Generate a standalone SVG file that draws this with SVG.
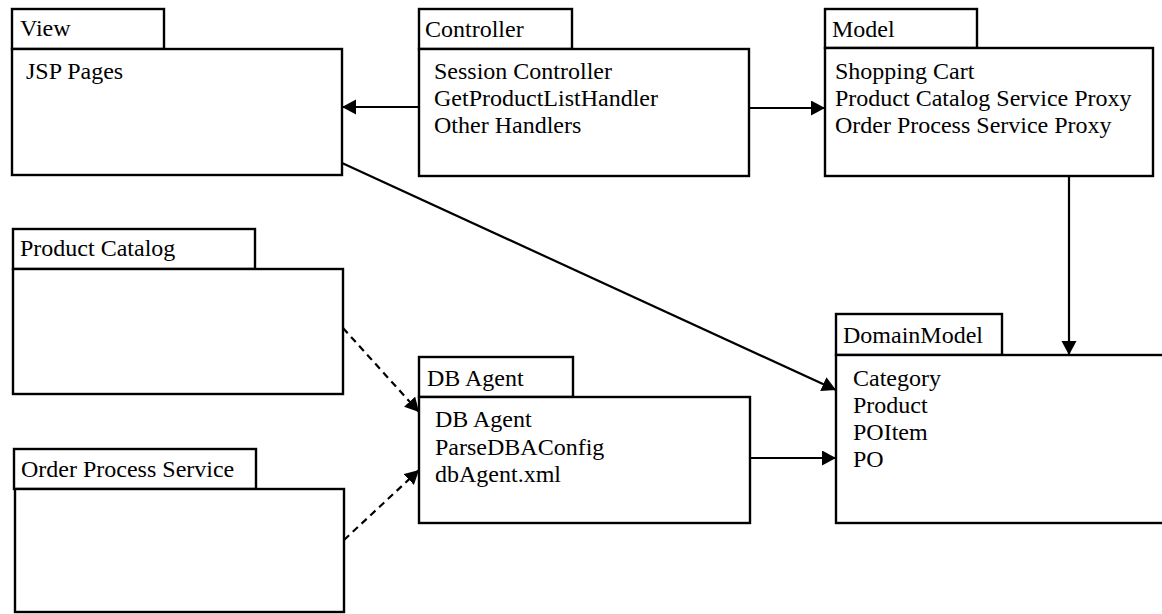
<svg xmlns="http://www.w3.org/2000/svg" width="1162" height="614" viewBox="0 0 1162 614">
  <style>
    .box { fill: #fff; stroke: #000; stroke-width: 2.4; }
    .lbl { font-family: 'Liberation Serif', 'Times New Roman', serif; font-size: 24px; fill: #000; }
    .edge { fill: none; stroke: #000; stroke-width: 2.2; }
    .dash { stroke-dasharray: 7 5; }
  </style>
  <defs>
    <marker id="head" markerUnits="userSpaceOnUse" markerWidth="16" markerHeight="16" refX="14" refY="7.5" orient="auto">
      <path d="M0,0 L14,7.5 L0,15 Z" fill="#000"/>
    </marker>
  </defs>
  <rect width="1162" height="614" fill="#fff"/>

  <!-- View package -->
  <g id="view">
    <rect class="box" x="12" y="9" width="152" height="40"/>
    <rect class="box" x="12" y="49" width="330" height="126"/>
    <text class="lbl" x="20" y="36">View</text>
    <text class="lbl" x="26" y="79">JSP Pages</text>
  </g>

  <!-- Controller package -->
  <g id="controller">
    <rect class="box" x="419" y="9" width="153" height="40"/>
    <rect class="box" x="419" y="49" width="330" height="127"/>
    <text class="lbl" x="425" y="37">Controller</text>
    <text class="lbl" x="434" y="79">Session Controller</text>
    <text class="lbl" x="434" y="106">GetProductListHandler</text>
    <text class="lbl" x="434" y="133">Other Handlers</text>
  </g>

  <!-- Model package -->
  <g id="model">
    <rect class="box" x="825" y="9" width="152" height="39"/>
    <rect class="box" x="825" y="48" width="328" height="128"/>
    <text class="lbl" x="832" y="37">Model</text>
    <text class="lbl" x="835" y="79">Shopping Cart</text>
    <text class="lbl" x="835" y="106">Product Catalog Service Proxy</text>
    <text class="lbl" x="835" y="133">Order Process Service Proxy</text>
  </g>

  <!-- Product Catalog package -->
  <g id="product-catalog">
    <rect class="box" x="13" y="229" width="242" height="40"/>
    <rect class="box" x="13" y="269" width="330" height="125"/>
    <text class="lbl" x="20" y="256">Product Catalog</text>
  </g>

  <!-- Order Process Service package -->
  <g id="order-process-service">
    <rect class="box" x="14" y="449" width="242" height="40"/>
    <rect class="box" x="15" y="489" width="329" height="123"/>
    <text class="lbl" x="21" y="477">Order Process Service</text>
  </g>

  <!-- DB Agent package -->
  <g id="db-agent">
    <rect class="box" x="419" y="357" width="154" height="40"/>
    <rect class="box" x="419" y="397" width="331" height="126"/>
    <text class="lbl" x="427" y="386">DB Agent</text>
    <text class="lbl" x="435" y="427">DB Agent</text>
    <text class="lbl" x="435" y="455">ParseDBAConfig</text>
    <text class="lbl" x="435" y="482">dbAgent.xml</text>
  </g>

  <!-- DomainModel package -->
  <g id="domain-model">
    <rect class="box" x="836" y="314" width="166" height="41"/>
    <rect class="box" x="836" y="355" width="340" height="168"/>
    <text class="lbl" x="843" y="343">DomainModel</text>
    <text class="lbl" x="853" y="386">Category</text>
    <text class="lbl" x="853" y="413">Product</text>
    <text class="lbl" x="853" y="440">POItem</text>
    <text class="lbl" x="853" y="467">PO</text>
  </g>

  <!-- Dependencies -->
  <g id="connectors">
    <line class="edge" x1="419" y1="107" x2="342" y2="107" marker-end="url(#head)"/>
    <line class="edge" x1="749" y1="108" x2="825" y2="108" marker-end="url(#head)"/>
    <line class="edge" x1="1069" y1="176" x2="1069" y2="355" marker-end="url(#head)"/>
    <line class="edge" x1="342" y1="163" x2="836" y2="390" marker-end="url(#head)"/>
    <line class="edge" x1="750" y1="458" x2="836" y2="458" marker-end="url(#head)"/>
    <line class="edge dash" x1="343" y1="328" x2="419" y2="412" marker-end="url(#head)"/>
    <line class="edge dash" x1="344" y1="540" x2="419" y2="470" marker-end="url(#head)"/>
  </g>
</svg>
